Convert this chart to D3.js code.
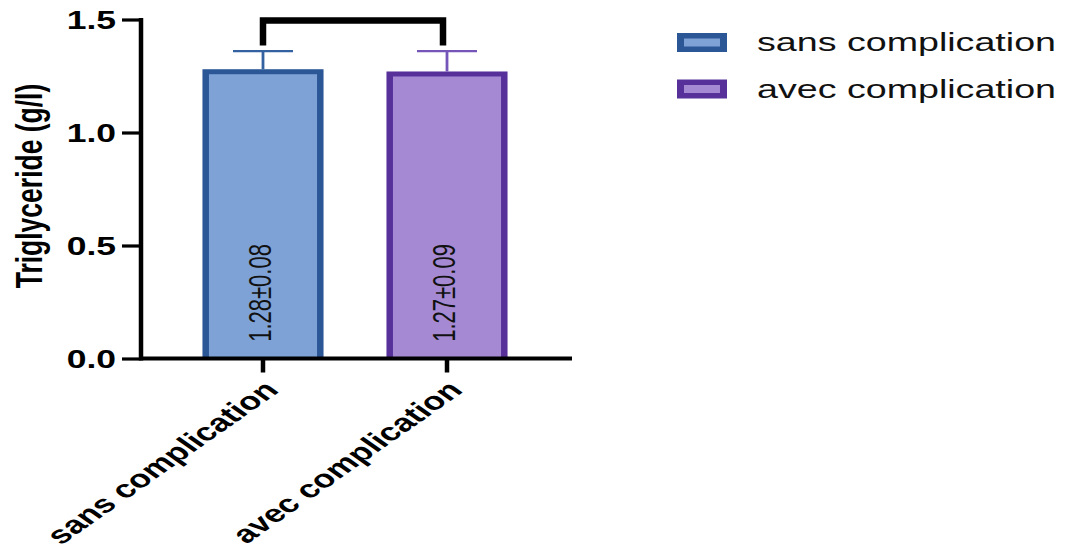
<!DOCTYPE html>
<html>
<head>
<meta charset="utf-8">
<script src="https://cdn.jsdelivr.net/npm/d3@7"></script>
<style>
  html, body { margin: 0; padding: 0; background: #ffffff; }
  svg { display: block; }
  text { font-family: "Liberation Sans", Arial, sans-serif; }
</style>
</head>
<body>
<svg id="chart" width="1065" height="555"></svg>
<script>
// Groups, means and spreads
const categories = ["sans complication", "avec complication"];
const means = [1.28, 1.27];
const spreads = [0.08, 0.09];
const valueLabels = ["1.28±0.08", "1.27±0.09"];
const yTicks = [0.0, 0.5, 1.0, 1.5];
const yTitle = "Triglyceride (g/l)";

// Bar styling per group
const fills = ["#7ea2d6", "#a58ad3"];
const borders = ["#2c5796", "#57309a"];
const errColors = ["#34619f", "#7556b8"];

// Text is drawn horizontally wider than tall
const K = 1.42;

const svg = d3.select("#chart");

const y = d3.scaleLinear().domain([0, 1.5]).range([358.5, 19.5]);
const x = d3.scaleBand()
  .domain(categories)
  .range([141, 569])
  .paddingInner(0.342)
  .paddingOuter(0.334);
const bw = x.bandwidth();
const cx = c => x(c) + bw / 2;

// Bars: dark outer rectangle with a lighter inner fill
const bars = svg.append("g");
categories.forEach((c, i) => {
  const top = y(means[i]);
  bars.append("rect")
    .attr("x", x(c)).attr("y", top)
    .attr("width", bw).attr("height", y(0) - top)
    .attr("fill", borders[i]);
  bars.append("rect")
    .attr("x", x(c) + 6.5).attr("y", top + 5)
    .attr("width", bw - 13).attr("height", y(0) - top - 5)
    .attr("fill", fills[i]);
});

// Error bars (upper only)
const err = svg.append("g");
categories.forEach((c, i) => {
  const yTop = y(means[i] + spreads[i]);
  err.append("line")
    .attr("x1", cx(c)).attr("x2", cx(c))
    .attr("y1", y(means[i])).attr("y2", yTop)
    .attr("stroke", errColors[i]).attr("stroke-width", 2.8);
  err.append("line")
    .attr("x1", cx(c) - 30).attr("x2", cx(c) + 30)
    .attr("y1", yTop).attr("y2", yTop)
    .attr("stroke", errColors[i]).attr("stroke-width", 2.2);
});

// Value labels inside the bars
categories.forEach((c, i) => {
  svg.append("text")
    .attr("transform", `translate(${cx(c) - 2},${y(0.29)}) scale(${K},1) rotate(-90)`)
    .attr("text-anchor", "middle")
    .attr("dominant-baseline", "central")
    .attr("font-size", 22)
    .attr("fill", "#111")
    .text(valueLabels[i]);
});

// Comparison bracket
const c0 = categories[0], c1 = categories[1];
svg.append("path")
  .attr("d", `M${cx(c0)},${y(1.385)} V${y(1.5) + 1} H${cx(c1) - 4} V${y(1.385)}`)
  .attr("fill", "none")
  .attr("stroke", "#000")
  .attr("stroke-width", 6.5)
  .attr("stroke-linejoin", "miter");

// X axis
const xAxisG = svg.append("g").attr("transform", `translate(0,${y(0)})`);
xAxisG.call(d3.axisBottom(x).tickSize(14).tickSizeOuter(0));
xAxisG.select(".domain").remove();
xAxisG.append("line")
  .attr("x1", 141).attr("x2", 572)
  .attr("y1", 0).attr("y2", 0)
  .attr("stroke", "#000").attr("stroke-width", 4);
xAxisG.selectAll(".tick line").attr("stroke", "#000").attr("stroke-width", 4.5);
xAxisG.selectAll(".tick text")
  .attr("x", null).attr("y", null).attr("dy", null)
  .attr("transform", `translate(17,33) scale(${K},1) rotate(-45)`)
  .attr("text-anchor", "end")
  .attr("font-family", "'Liberation Sans', Arial, sans-serif")
  .attr("font-weight", "bold")
  .attr("font-size", 25)
  .attr("fill", "#000");

// Y axis
const yAxisG = svg.append("g").attr("transform", "translate(141,0)");
yAxisG.call(d3.axisLeft(y).tickValues(yTicks).tickFormat(d3.format(".1f")).tickSize(19).tickSizeOuter(0));
yAxisG.select(".domain")
  .attr("stroke", "#000").attr("stroke-width", 4.5)
  .attr("d", `M0,${y(1.5) - 1.5}V${y(0) + 2}`);
yAxisG.selectAll(".tick line").attr("stroke", "#000").attr("stroke-width", 3.2);
yAxisG.selectAll(".tick text")
  .attr("x", null).attr("dy", null)
  .attr("transform", `translate(-25,0) scale(${K},1)`)
  .attr("dominant-baseline", "central")
  .attr("text-anchor", "end")
  .attr("font-family", "'Liberation Sans', Arial, sans-serif")
  .attr("font-weight", "bold")
  .attr("font-size", 25)
  .attr("fill", "#000");

// Y axis title
svg.append("text")
  .attr("transform", `translate(29,186) scale(${K},1) rotate(-90)`)
  .attr("text-anchor", "middle")
  .attr("dominant-baseline", "central")
  .attr("font-weight", "bold")
  .attr("font-size", 26.5)
  .attr("fill", "#000")
  .text(yTitle);

// Legend
const legendRows = [42.5, 89];
const legend = svg.append("g");
categories.forEach((c, i) => {
  const cy = legendRows[i];
  legend.append("rect")
    .attr("x", 677).attr("y", cy - 9.5)
    .attr("width", 50).attr("height", 19)
    .attr("fill", borders[i]);
  legend.append("rect")
    .attr("x", 684).attr("y", cy - 4)
    .attr("width", 36).attr("height", 8)
    .attr("fill", fills[i]);
  legend.append("text")
    .attr("transform", `translate(757,${cy}) scale(${K},1)`)
    .attr("dominant-baseline", "central")
    .attr("font-size", 26.5)
    .attr("fill", "#111")
    .text(c);
});
</script>
</body>
</html>
